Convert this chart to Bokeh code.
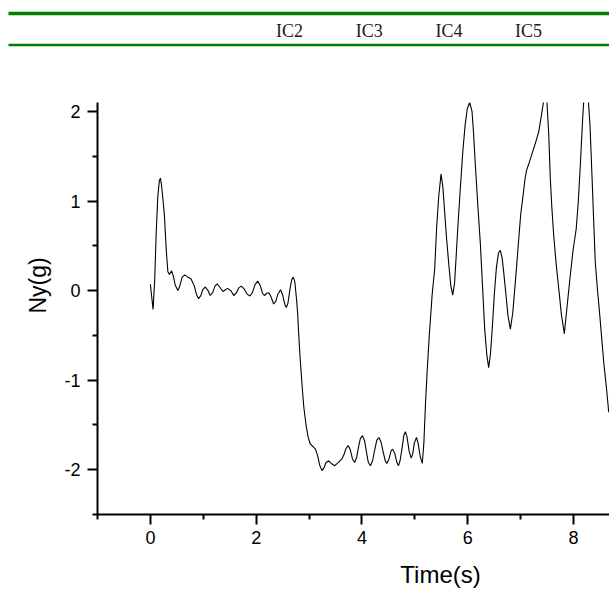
from bokeh.plotting import figure
from bokeh.models import Range1d, FixedTicker, Title
from bokeh.layouts import column
from bokeh.core.properties import value
from bokeh.embed import file_html
from bokeh.resources import INLINE

# ---------------- data ----------------
time_s = [
    0.00, 0.03, 0.05, 0.08, 0.11, 0.14, 0.17, 0.19, 0.21, 0.24, 0.265, 0.30, 0.33, 0.36, 0.40,
    0.43, 0.47, 0.52, 0.56, 0.60, 0.65, 0.71, 0.77, 0.83, 0.87, 0.91, 0.95, 0.99, 1.04, 1.09,
    1.13, 1.18, 1.22, 1.26, 1.31, 1.37, 1.42, 1.46, 1.52, 1.575, 1.62, 1.67, 1.72, 1.77, 1.83,
    1.88, 1.93, 1.98, 2.03, 2.08, 2.12, 2.155, 2.20, 2.24, 2.28, 2.33, 2.37, 2.41, 2.46, 2.50,
    2.54, 2.57, 2.60, 2.64, 2.67, 2.70, 2.73, 2.76, 2.785, 2.80, 2.83, 2.87, 2.90, 2.94, 2.98,
    3.02, 3.07, 3.12, 3.16, 3.20, 3.245, 3.28, 3.32, 3.37, 3.42, 3.485, 3.55, 3.62, 3.66, 3.70,
    3.74, 3.78, 3.82, 3.86, 3.90, 3.94, 3.97, 4.01, 4.05, 4.09, 4.12, 4.16, 4.20, 4.24, 4.28,
    4.32, 4.36, 4.40, 4.44, 4.47, 4.51, 4.55, 4.58, 4.62, 4.66, 4.69, 4.72, 4.76, 4.79, 4.82,
    4.85, 4.89, 4.93, 4.96, 4.99, 5.03, 5.06, 5.10, 5.14, 5.17, 5.20, 5.23, 5.27, 5.325, 5.375,
    5.41, 5.45, 5.495, 5.53, 5.56, 5.595, 5.64, 5.68, 5.715, 5.75, 5.78, 5.81, 5.86, 5.905, 5.95,
    5.99, 6.035, 6.08, 6.11, 6.14, 6.19, 6.24, 6.28, 6.32, 6.36, 6.395, 6.43, 6.465, 6.50, 6.54,
    6.58, 6.615, 6.65, 6.68, 6.71, 6.76, 6.805, 6.85, 6.90, 6.96, 7.00, 7.045, 7.08, 7.11, 7.15,
    7.215, 7.28, 7.34, 7.39, 7.435, 7.465, 7.495, 7.53, 7.56, 7.59, 7.625, 7.67, 7.72, 7.77, 7.825,
    7.87, 7.93, 7.99, 8.05, 8.09, 8.13, 8.17, 8.20, 8.235, 8.27, 8.31, 8.35, 8.38, 8.41, 8.45,
    8.49, 8.53, 8.57, 8.62, 8.665,
]
ny_g = [
    0.07, -0.10, -0.21, 0.10, 0.65, 1.05, 1.23, 1.255, 1.18, 1.00, 0.84, 0.45, 0.21, 0.18, 0.22,
    0.17, 0.06, 0.00, 0.06, 0.15, 0.175, 0.15, 0.13, 0.05, -0.04, -0.09, -0.06, 0.01, 0.04, 0.00,
    -0.055, -0.02, 0.05, 0.075, 0.04, -0.01, 0.01, 0.025, 0.00, -0.055, -0.03, 0.03, 0.05, 0.02, -0.04,
    -0.06, -0.02, 0.07, 0.105, 0.05, -0.03, -0.055, -0.03, -0.025, -0.07, -0.15, -0.12, -0.04, 0.01, -0.05,
    -0.15, -0.19, -0.14, 0.02, 0.12, 0.15, 0.10, -0.08, -0.26, -0.45, -0.75, -1.08, -1.30, -1.49, -1.63,
    -1.71, -1.74, -1.77, -1.84, -1.95, -2.01, -1.98, -1.92, -1.90, -1.93, -1.955, -1.92, -1.88, -1.83, -1.76,
    -1.73, -1.78, -1.88, -1.92, -1.86, -1.73, -1.65, -1.62, -1.68, -1.82, -1.92, -1.955, -1.90, -1.78, -1.67,
    -1.64, -1.69, -1.80, -1.90, -1.93, -1.88, -1.79, -1.77, -1.82, -1.92, -1.955, -1.90, -1.75, -1.62, -1.575,
    -1.63, -1.79, -1.87, -1.82, -1.70, -1.64, -1.70, -1.85, -1.93, -1.70, -1.27, -0.92, -0.52, -0.055, 0.25,
    0.69, 1.05, 1.30, 1.15, 0.90, 0.61, 0.30, 0.05, -0.05, 0.08, 0.38, 0.69, 1.15, 1.545, 1.85,
    2.03, 2.10, 2.00, 1.75, 1.43, 0.95, 0.50, 0.03, -0.43, -0.72, -0.86, -0.70, -0.40, -0.055, 0.25,
    0.42, 0.45, 0.36, 0.20, 0.02, -0.28, -0.43, -0.25, 0.10, 0.55, 0.85, 1.06, 1.24, 1.34, 1.41,
    1.53, 1.65, 1.77, 1.95, 2.12, 2.22, 2.12, 1.75, 1.25, 0.92, 0.61, 0.30, 0.02, -0.27, -0.48,
    -0.22, 0.13, 0.45, 0.69, 1.00, 1.43, 1.90, 2.20, 2.30, 2.20, 1.85, 1.25, 0.78, 0.32, 0.02,
    -0.24, -0.52, -0.80, -1.08, -1.36,
]

x_major = [0, 2, 4, 6, 8]
x_minor = [-1, 1, 3, 5, 7]
y_major = [-2, -1, 0, 1, 2]
y_minor = [-2.5, -1.5, -0.5, 0.5, 1.5]
ic_labels = ["IC2", "IC3", "IC4", "IC5"]
x_label = "Time(s)"
y_label = "Ny(g)"

W = 609
HEAD_H = 102
MAIN_H = 453
FOOT_H = 34

# ---------------- header strip (table header fragment) ----------------
header = figure(width=W, height=HEAD_H, x_range=Range1d(0, W), y_range=Range1d(HEAD_H, 0),
                output_backend="svg", toolbar_location=None, min_border=0,
                x_axis_location=None, y_axis_location=None)
header.frame_align = False
header.outline_line_color = None
header.grid.visible = False
header.segment(x0=[8, 8], y0=[13, 44.5], x1=[W, W], y1=[13, 44.5],
               line_color="#008000", line_width=[3.5, 2.5])
ic_x = [289.0 + i * 79.7 for i in range(len(ic_labels))]
header.text(x=ic_x, y=[30] * len(ic_labels), text=ic_labels,
            text_font=value("Liberation Serif"), text_font_size="18px",
            text_align="center", text_baseline="middle", text_color="#1a1a1a")

# ---------------- main chart ----------------
p = figure(width=W, height=MAIN_H, x_range=Range1d(-1.0, 8.679), y_range=Range1d(-2.5, 2.1),
           output_backend="svg", toolbar_location=None,
           min_border_left=97, min_border_right=0, min_border_top=0, min_border_bottom=41)
p.frame_align = False
p.outline_line_color = None
p.grid.visible = False

p.line(time_s, ny_g, line_color="black", line_width=1.1)

p.xaxis.ticker = FixedTicker(ticks=x_major, minor_ticks=x_minor)
p.yaxis.ticker = FixedTicker(ticks=y_major, minor_ticks=y_minor)
p.yaxis.major_label_overrides = {-2: "-2", -1: "-1"}
for ax in (p.xaxis[0], p.yaxis[0]):
    ax.axis_line_width = 2
    ax.axis_line_color = "black"
    ax.major_tick_line_width = 2
    ax.minor_tick_line_width = 2
    ax.major_tick_line_color = "black"
    ax.minor_tick_line_color = "black"
    ax.major_tick_in = 0
    ax.minor_tick_in = 0
    ax.major_tick_out = 10
    ax.minor_tick_out = 5
    ax.major_label_text_font = "Liberation Sans"
    ax.major_label_text_font_size = "18px"
    ax.major_label_text_color = "black"
p.xaxis.major_label_standoff = 6
p.yaxis.major_label_standoff = 7

p.add_layout(Title(text=y_label, align="left", offset=201, text_font="Liberation Sans",
                   text_font_size="23px", text_font_style="normal", text_color="black",
                   standoff=22), "left")

# ---------------- footer strip with the x-axis title ----------------
footer = figure(width=W, height=FOOT_H, x_range=Range1d(0, W), y_range=Range1d(FOOT_H, 0),
                output_backend="svg", toolbar_location=None, min_border=0,
                x_axis_location=None, y_axis_location=None)
footer.frame_align = False
footer.outline_line_color = None
footer.grid.visible = False
footer.text(x=[440], y=[19], text=[x_label], text_font=value("Liberation Sans"),
            text_font_size="24px", text_align="center", text_baseline="middle",
            text_color="black")

layout = column(header, p, footer, spacing=0)
open("out.html", "w").write(file_html(layout, INLINE))
